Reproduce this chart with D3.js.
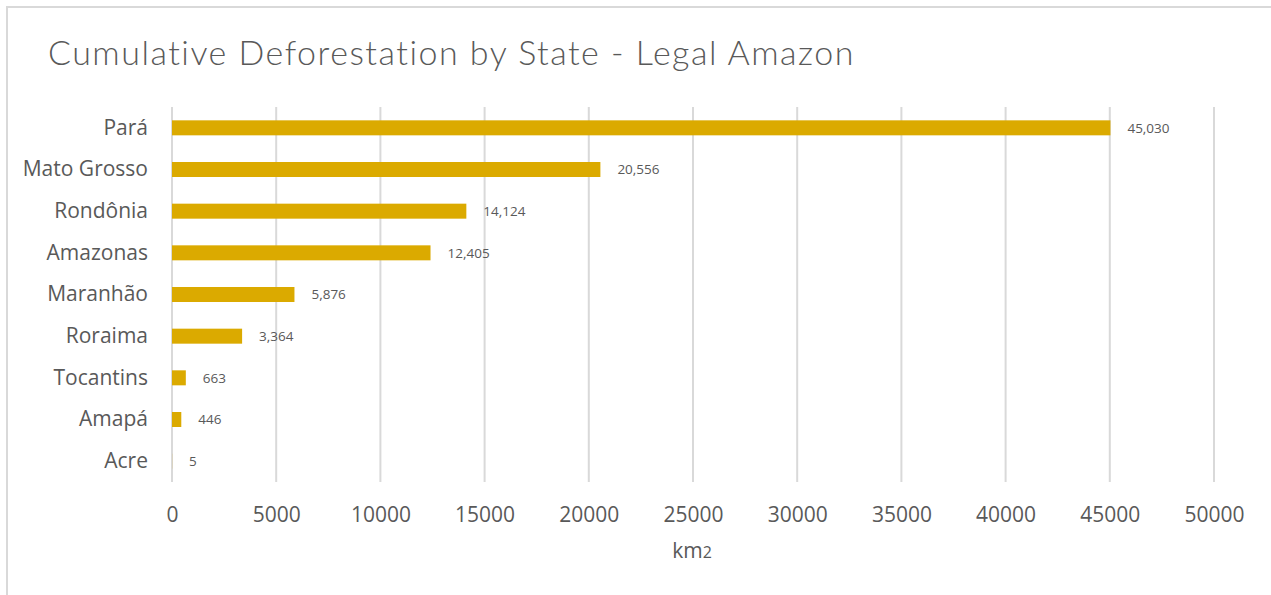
<!DOCTYPE html>
<html>
<head>
<meta charset="utf-8">
<script src="https://cdn.jsdelivr.net/npm/d3@7"></script>
<style>
  body { margin: 0; background: #fff; }
  svg { display: block; }
</style>
</head>
<body>
<svg id="chart"></svg>
<script>
// data
const states = ["Pará", "Mato Grosso", "Rondônia", "Amazonas", "Maranhão", "Roraima", "Tocantins", "Amapá", "Acre"];
const deforestation = [45030, 20556, 14124, 12405, 5876, 3364, 663, 446, 5];
const xTicks = [0, 5000, 10000, 15000, 20000, 25000, 30000, 35000, 40000, 45000, 50000];

const width = 1271;
const height = 595;
const margin = { top: 107, right: 57, bottom: 113, left: 172 };

const svg = d3.select("#chart").attr("width", width).attr("height", height);

// frame (only top and left edges are visible in the crop)
svg.append("path")
  .attr("d", `M7,${height} L7,7 L${width},7`)
  .attr("fill", "none")
  .attr("stroke", "#d9d9d9")
  .attr("stroke-width", 2);

const x = d3.scaleLinear()
  .domain([0, 50000])
  .range([margin.left, width - margin.right]);

const y = d3.scaleBand()
  .domain(states)
  .range([margin.top, height - margin.bottom])
  .paddingInner(0.64)
  .paddingOuter(0.32);

// gridlines
svg.append("g")
  .selectAll("line")
  .data(xTicks)
  .join("line")
  .attr("x1", d => x(d))
  .attr("x2", d => x(d))
  .attr("y1", margin.top)
  .attr("y2", height - margin.bottom)
  .attr("stroke", "#d9d9d9")
  .attr("stroke-width", 2);

// bars
svg.append("g")
  .selectAll("rect")
  .data(states)
  .join("rect")
  .attr("x", x(0))
  .attr("y", d => y(d))
  .attr("width", (d, i) => x(deforestation[i]) - x(0))
  .attr("height", y.bandwidth())
  .attr("fill", "#dbaa00");

// data labels
const fmt = d3.format(",");
svg.append("g")
  .selectAll("text")
  .data(states)
  .join("text")
  .attr("x", (d, i) => x(deforestation[i]) + 17)
  .attr("y", d => y(d) + y.bandwidth() / 2)
  .attr("dy", "0.35em")
  .style("font-family", "'Open Sans', sans-serif")
  .style("font-size", "13.5px")
  .attr("fill", "#595959")
  .text((d, i) => fmt(deforestation[i]));

// x axis
const xAxis = svg.append("g")
  .attr("transform", `translate(0,${height - margin.bottom})`)
  .call(d3.axisBottom(x).tickValues(xTicks).tickFormat(d3.format("d")).tickSize(0).tickPadding(25));
xAxis.select(".domain").remove();
xAxis.selectAll("text")
  .style("font-family", "'Open Sans', sans-serif")
  .style("font-size", "21px")
  .attr("fill", "#595959");

// y axis
const yAxis = svg.append("g")
  .attr("transform", `translate(${margin.left},0)`)
  .call(d3.axisLeft(y).tickSize(0).tickPadding(24));
yAxis.select(".domain").remove();
yAxis.selectAll("text")
  .style("font-family", "'Open Sans', sans-serif")
  .style("font-size", "21px")
  .attr("fill", "#595959");

// axis title
const xLabel = svg.append("text")
  .attr("x", 692)
  .attr("y", 558)
  .attr("text-anchor", "middle")
  .style("font-family", "'Open Sans', sans-serif")
  .style("font-size", "21px")
  .attr("fill", "#595959");
xLabel.append("tspan").text("km");
xLabel.append("tspan").style("font-size", "16px").text("2");

// title
svg.append("text")
  .attr("x", 48)
  .attr("y", 65)
  .style("font-family", "Lato, sans-serif")
  .style("font-weight", 300)
  .style("font-size", "34px")
  .style("letter-spacing", "1.5px")
  .attr("fill", "#595959")
  .text("Cumulative Deforestation by State - Legal Amazon");
</script>
</body>
</html>
